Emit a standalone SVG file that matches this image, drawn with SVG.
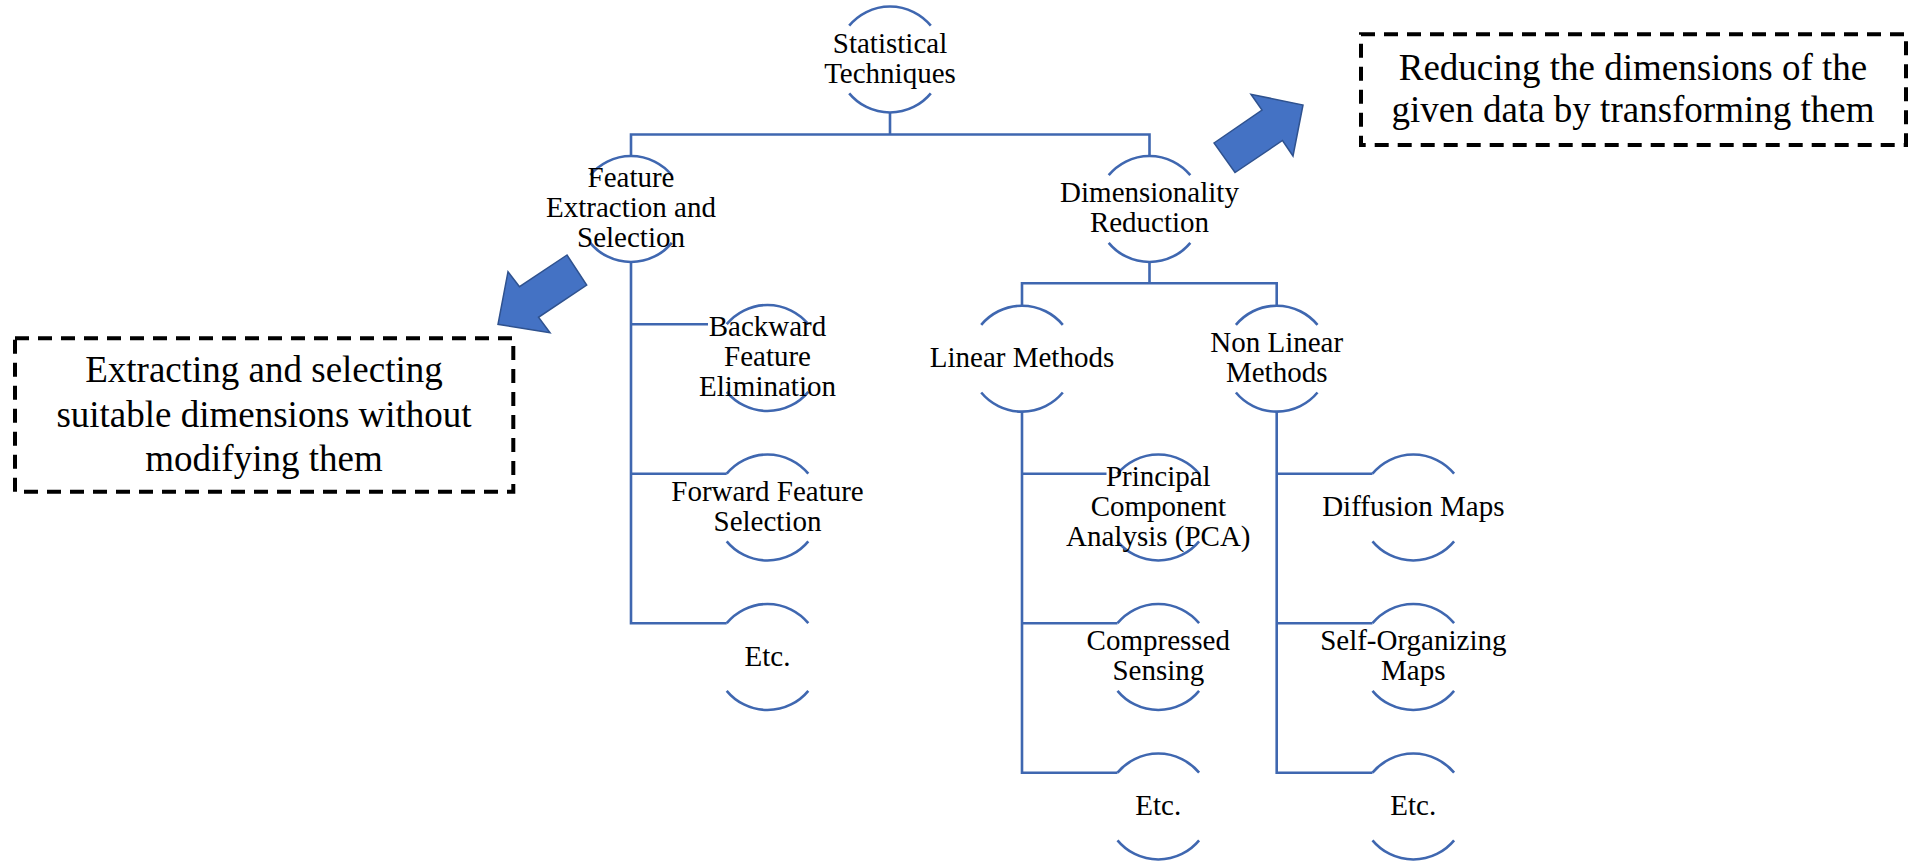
<svg xmlns="http://www.w3.org/2000/svg" xmlns:xlink="http://www.w3.org/1999/xlink" width="1911" height="865" viewBox="0 0 1911 865">
  <style>
    .ring { fill: none; stroke: #3F67B0; stroke-width: 2.6; }
    .link { fill: none; stroke: #3F67B0; stroke-width: 2.6; stroke-linejoin: miter; }
    .label { font-family: "Liberation Serif", "Times New Roman", serif; font-size: 29px; fill: #000; text-anchor: middle; }
    .note { font-family: "Liberation Serif", "Times New Roman", serif; font-size: 37px; fill: #000; text-anchor: middle; }
    .dash { fill: none; stroke: #000; stroke-width: 4; stroke-dasharray: 14 9; }
    .block { fill: #4472C4; stroke: #2F528F; stroke-width: 1.5; stroke-linejoin: miter; }
  </style>
  <defs>
    <!-- open ring: top and bottom arcs of a circle r=53, sides left open for the label -->
    <path id="ring" class="ring" d="M-40.8,-33.8 A53,53 0 0 1 40.8,-33.8 M-40.8,33.8 A53,53 0 0 0 40.8,33.8"/>
  </defs>
  <rect width="1911" height="865" fill="#fff"/>

  <!-- tree connectors -->
  <g id="connectors">
    <path class="link" d="M890,112.5 V134.5 M631,156 V134.5 H1149.5 V156"/>
    <path class="link" d="M631,262 V623.2 H726.7 M631,324.2 H708 M631,473.7 H726.7"/>
    <path class="link" d="M1149.5,262 V283.3 M1022,305.7 V283.3 H1276.7 V305.7"/>
    <path class="link" d="M1022,412 V772.7 H1117.5 M1022,473.7 H1106.5 M1022,623.2 H1117.5"/>
    <path class="link" d="M1276.7,412 V772.7 H1372.5 M1276.7,473.7 H1372.5 M1276.7,623.2 H1372.5"/>
  </g>

  <!-- nodes -->
  <g id="statistical-techniques">
    <use xlink:href="#ring" href="#ring" x="890" y="59.5"/>
    <text class="label" x="890" y="52.5">Statistical</text>
    <text class="label" x="890" y="82.5">Techniques</text>
  </g>
  <g id="feature-extraction">
    <use xlink:href="#ring" href="#ring" x="631" y="209"/>
    <text class="label" x="631" y="187">Feature</text>
    <text class="label" x="631" y="217">Extraction and</text>
    <text class="label" x="631" y="247">Selection</text>
  </g>
  <g id="dimensionality-reduction">
    <use xlink:href="#ring" href="#ring" x="1149.5" y="209"/>
    <text class="label" x="1149.5" y="202">Dimensionality</text>
    <text class="label" x="1149.5" y="232">Reduction</text>
  </g>
  <g id="backward-feature-elimination">
    <use xlink:href="#ring" href="#ring" x="767.5" y="358"/>
    <text class="label" x="767.5" y="336">Backward</text>
    <text class="label" x="767.5" y="366">Feature</text>
    <text class="label" x="767.5" y="396">Elimination</text>
  </g>
  <g id="forward-feature-selection">
    <use xlink:href="#ring" href="#ring" x="767.5" y="507.5"/>
    <text class="label" x="767.5" y="500.5">Forward Feature</text>
    <text class="label" x="767.5" y="530.5">Selection</text>
  </g>
  <g id="feature-etc">
    <use xlink:href="#ring" href="#ring" x="767.5" y="657"/>
    <text class="label" x="767.5" y="665.5">Etc.</text>
  </g>
  <g id="linear-methods">
    <use xlink:href="#ring" href="#ring" x="1022" y="358.7"/>
    <text class="label" x="1022" y="366.5">Linear Methods</text>
  </g>
  <g id="non-linear-methods">
    <use xlink:href="#ring" href="#ring" x="1276.7" y="358.7"/>
    <text class="label" x="1276.7" y="351.5">Non Linear</text>
    <text class="label" x="1276.7" y="381.5">Methods</text>
  </g>
  <g id="pca">
    <use xlink:href="#ring" href="#ring" x="1158.3" y="507.5"/>
    <text class="label" x="1158.3" y="485.5">Principal</text>
    <text class="label" x="1158.3" y="515.5">Component</text>
    <text class="label" x="1158.3" y="545.5">Analysis (PCA)</text>
  </g>
  <g id="compressed-sensing">
    <use xlink:href="#ring" href="#ring" x="1158.3" y="657"/>
    <text class="label" x="1158.3" y="650">Compressed</text>
    <text class="label" x="1158.3" y="680">Sensing</text>
  </g>
  <g id="linear-etc">
    <use xlink:href="#ring" href="#ring" x="1158.3" y="806.5"/>
    <text class="label" x="1158.3" y="815">Etc.</text>
  </g>
  <g id="diffusion-maps">
    <use xlink:href="#ring" href="#ring" x="1413.3" y="507.5"/>
    <text class="label" x="1413.3" y="515.5">Diffusion Maps</text>
  </g>
  <g id="self-organizing-maps">
    <use xlink:href="#ring" href="#ring" x="1413.3" y="657"/>
    <text class="label" x="1413.3" y="650">Self-Organizing</text>
    <text class="label" x="1413.3" y="680">Maps</text>
  </g>
  <g id="non-linear-etc">
    <use xlink:href="#ring" href="#ring" x="1413.3" y="806.5"/>
    <text class="label" x="1413.3" y="815">Etc.</text>
  </g>

  <!-- explanatory callouts -->
  <g id="callout-selection">
    <polygon class="block" points="567,255 519.5,286.7 508,271.7 498,324.3 550,332.7 538.5,317.3 586.7,285"/>
    <rect class="dash" x="15" y="338.3" width="498.3" height="153.4"/>
    <text class="note" x="264" y="382">Extracting and selecting</text>
    <text class="note" x="264" y="426.5">suitable dimensions without</text>
    <text class="note" x="264" y="471">modifying them</text>
  </g>
  <g id="callout-reduction">
    <polygon class="block" points="1214,143 1262,110 1251,94.3 1303,105 1293,156 1282.5,140.5 1235,172.5"/>
    <rect class="dash" x="1361" y="34.3" width="545" height="110.7"/>
    <text class="note" x="1633" y="80">Reducing the dimensions of the</text>
    <text class="note" x="1633" y="121.7">given data by transforming them</text>
  </g>
</svg>
